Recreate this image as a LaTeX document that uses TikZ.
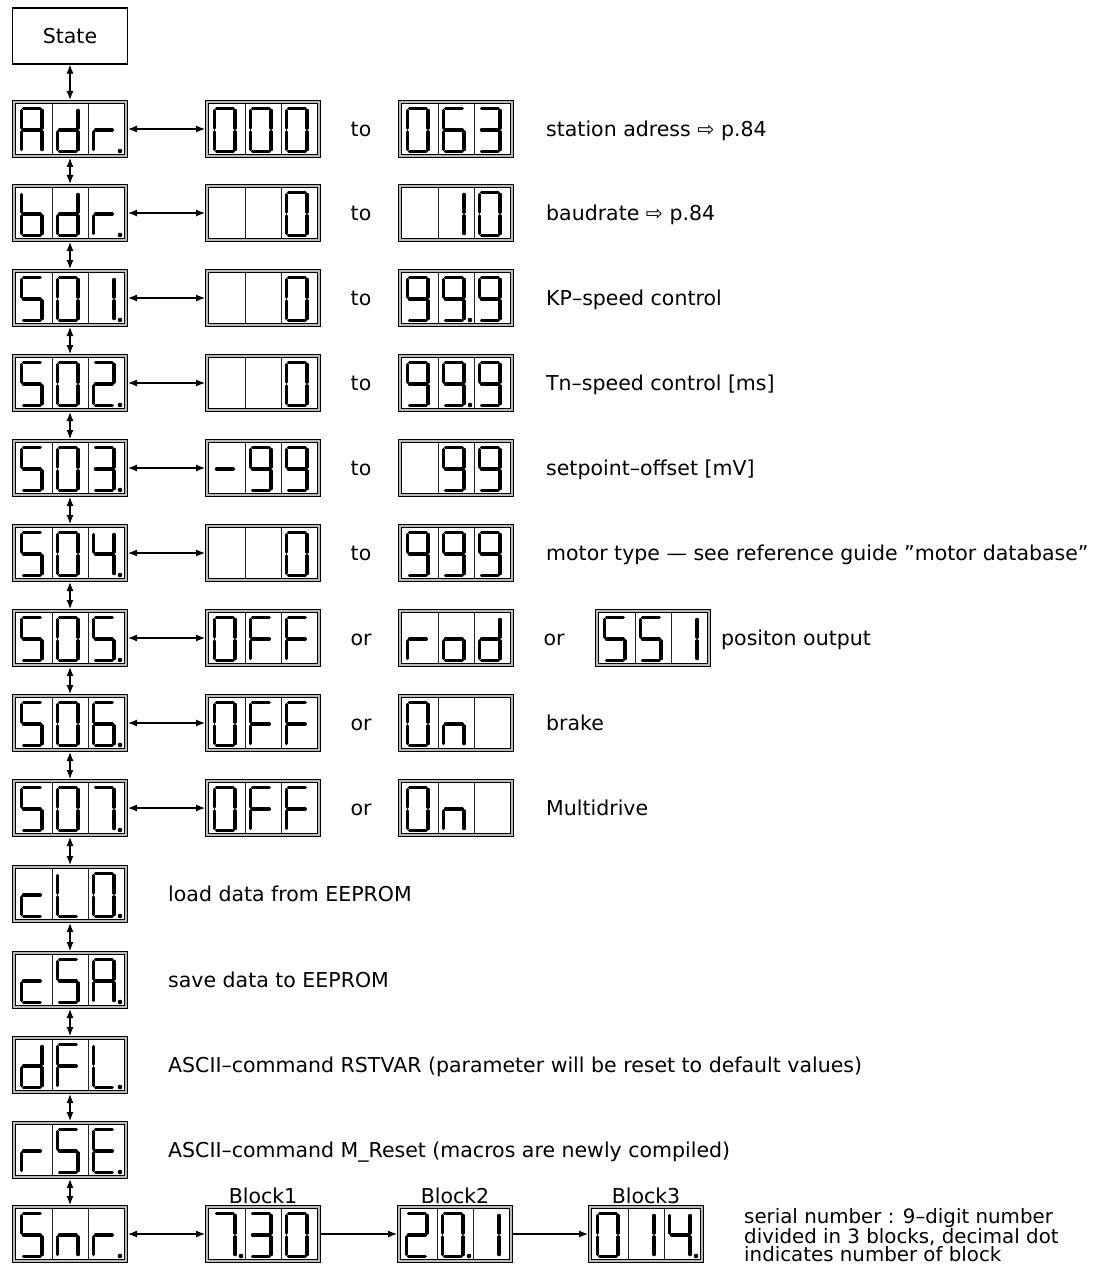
\documentclass[tikz,border=0pt]{standalone}
\usepackage{fontspec}
\setmainfont{DejaVu Sans}
\usetikzlibrary{arrows.meta}
\tikzset{
 segm/.style={line width=3.5pt, line cap=round},
 divider/.style={line width=0.7pt, black!85},
 dispbox/.style={rectangle, draw=black, line width=0.9pt, double=gray!55, double distance=2.3pt, fill=white, minimum width=112pt, minimum height=54pt, inner sep=0pt, outer sep=2pt},
 lbl/.style={font=\fontsize{20.5}{24}\selectfont, inner sep=0pt, anchor=base west},
 lblc/.style={font=\fontsize{20.5}{24}\selectfont, inner sep=0pt, anchor=base},
 conn/.style={line width=1.2pt, {Latex[length=9pt,width=7pt]}-{Latex[length=9pt,width=7pt]}},
 connone/.style={line width=1.2pt, -{Latex[length=9pt,width=7pt]}},
}
% segments in local digit frame (w=20.5, h=42.8)
\newcommand\Sega{\draw[segm] (1.9,0) -- (18.6,0);}
\newcommand\Segb{\draw[segm] (20.5,1.9) -- (20.5,19.5);}
\newcommand\Segc{\draw[segm] (20.5,23.3) -- (20.5,40.9);}
\newcommand\Segd{\draw[segm] (1.9,42.8) -- (18.6,42.8);}
\newcommand\Sege{\draw[segm] (0,23.3) -- (0,40.9);}
\newcommand\Segf{\draw[segm] (0,1.9) -- (0,19.5);}
\newcommand\Segg{\draw[segm] (1.9,21.4) -- (18.6,21.4);}
\newcommand\Segz{}
\def\DgA{a,b,c,e,f,g}
\def\Dgd{b,c,d,e,g}
\def\Dgr{e,g}
\def\Dgb{c,d,e,f,g}
\def\DgZero{a,b,c,d,e,f}
\def\DgOne{b,c}
\def\DgTwo{a,b,d,e,g}
\def\DgThree{a,b,c,d,g}
\def\DgFour{b,c,f,g}
\def\DgFive{a,c,d,f,g}
\def\DgSix{a,c,d,e,f,g}
\def\DgSeven{a,b,c}
\def\DgNine{a,b,c,d,f,g}
\def\DgMinus{g}
\def\DgF{a,e,f,g}
\def\Dgo{c,d,e,g}
\def\Dgn{c,e,g}
\def\Dgc{d,e,g}
\def\DgL{d,e,f}
\def\DgE{a,d,e,f,g}
\def\DgBlank{z}
% #1 name, #2 left, #3 top, #4-#6 cells, #7 dot cell
\newcommand\disp[7]{%
 \node[dispbox] (#1) at ({#2+58},{#3+29}) {};
 \begin{scope}[shift={(#2,#3)}]
   \draw[divider] (40,4) -- (40,54) (76,4) -- (76,54);
   \begin{scope}[shift={(9.6,8.6)}]\foreach \s in #4 {\csname Seg\s\endcsname}\end{scope}
   \begin{scope}[shift={(45.6,8.6)}]\foreach \s in #5 {\csname Seg\s\endcsname}\end{scope}
   \begin{scope}[shift={(81.6,8.6)}]\foreach \s in #6 {\csname Seg\s\endcsname}\end{scope}
   \ifcase#7\or \fill (36,51) circle (2.3);\or \fill (72,51) circle (2.3);\or \fill (108,51) circle (2.3);\fi
 \end{scope}}
\begin{document}
\begin{tikzpicture}[x=1pt,y=-1pt]
\useasboundingbox (0,0) rectangle (1100,1265);
\node[draw, line width=1.1pt, minimum width=115pt, minimum height=56pt, inner sep=0pt, font=\fontsize{20.5}{24}\selectfont] (state) at (70,36) {State};

% Adr
\disp{adr}{12}{100}{\DgA}{\Dgd}{\Dgr}{3}
\disp{adrmin}{205}{100}{\DgZero}{\DgZero}{\DgZero}{0}
\node[lblc] (adrto) at (361,136.5) {to};
\disp{adrmax}{398}{100}{\DgZero}{\DgSix}{\DgThree}{0}
\node[lbl] (adrtxt) at (546,136.5) {station adress ⇨ p.84};
% bdr
\disp{bdr}{12}{184}{\Dgb}{\Dgd}{\Dgr}{3}
\disp{bdrmin}{205}{184}{\DgBlank}{\DgBlank}{\DgZero}{0}
\node[lblc] (bdrto) at (361,220.5) {to};
\disp{bdrmax}{398}{184}{\DgBlank}{\DgOne}{\DgZero}{0}
\node[lbl] (bdrtxt) at (546,220.5) {baudrate ⇨ p.84};
% S01
\disp{sa}{12}{269}{\DgFive}{\DgZero}{\DgOne}{3}
\disp{samin}{205}{269}{\DgBlank}{\DgBlank}{\DgZero}{0}
\node[lblc] (sato) at (361,305.5) {to};
\disp{samax}{398}{269}{\DgNine}{\DgNine}{\DgNine}{2}
\node[lbl] (satxt) at (546,305.5) {KP–speed control};
% S02
\disp{sb}{12}{354}{\DgFive}{\DgZero}{\DgTwo}{3}
\disp{sbmin}{205}{354}{\DgBlank}{\DgBlank}{\DgZero}{0}
\node[lblc] (sbto) at (361,390.5) {to};
\disp{sbmax}{398}{354}{\DgNine}{\DgNine}{\DgNine}{2}
\node[lbl] (sbtxt) at (546,390.5) {Tn–speed control [ms]};
% S03
\disp{sc}{12}{439}{\DgFive}{\DgZero}{\DgThree}{3}
\disp{scmin}{205}{439}{\DgMinus}{\DgNine}{\DgNine}{0}
\node[lblc] (scto) at (361,475.5) {to};
\disp{scmax}{398}{439}{\DgBlank}{\DgNine}{\DgNine}{0}
\node[lbl] (sctxt) at (546,475.5) {setpoint–offset [mV]};
% S04
\disp{sd}{12}{524}{\DgFive}{\DgZero}{\DgFour}{3}
\disp{sdmin}{205}{524}{\DgBlank}{\DgBlank}{\DgZero}{0}
\node[lblc] (sdto) at (361,560.5) {to};
\disp{sdmax}{398}{524}{\DgNine}{\DgNine}{\DgNine}{0}
\node[lbl] (sdtxt) at (546,560.5) {motor type — see reference guide ”motor database”};
% S05
\disp{se}{12}{609}{\DgFive}{\DgZero}{\DgFive}{3}
\disp{seoff}{205}{609}{\DgZero}{\DgF}{\DgF}{0}
\node[lblc] (seor) at (361,645.5) {or};
\disp{serod}{398}{609}{\Dgr}{\Dgo}{\Dgd}{0}
\node[lblc] (seorb) at (554,645.5) {or};
\disp{sessi}{595}{609}{\DgFive}{\DgFive}{\DgOne}{0}
\node[lbl] (setxt) at (721,645.5) {positon output};
% S06
\disp{sf}{12}{694}{\DgFive}{\DgZero}{\DgSix}{3}
\disp{sfoff}{205}{694}{\DgZero}{\DgF}{\DgF}{0}
\node[lblc] (sfor) at (361,730.5) {or};
\disp{sfon}{398}{694}{\DgZero}{\Dgn}{\DgBlank}{0}
\node[lbl] (sftxt) at (546,730.5) {brake};
% S07
\disp{sg}{12}{779}{\DgFive}{\DgZero}{\DgSeven}{3}
\disp{sgoff}{205}{779}{\DgZero}{\DgF}{\DgF}{0}
\node[lblc] (sgor) at (361,815.5) {or};
\disp{sgon}{398}{779}{\DgZero}{\Dgn}{\DgBlank}{0}
\node[lbl] (sgtxt) at (546,815.5) {Multidrive};
% cL0
\disp{cl}{12}{865}{\Dgc}{\DgL}{\DgZero}{3}
\node[lbl] (cltxt) at (168,901.5) {load data from EEPROM};
% cSA
\disp{cs}{12}{951}{\Dgc}{\DgFive}{\DgA}{3}
\node[lbl] (cstxt) at (168,987.5) {save data to EEPROM};
% dFL
\disp{df}{12}{1036}{\Dgd}{\DgF}{\DgL}{3}
\node[lbl] (dftxt) at (168,1072.5) {ASCII–command RSTVAR (parameter will be reset to default values)};
% rSE
\disp{rs}{12}{1121}{\Dgr}{\DgFive}{\DgE}{3}
\node[lbl] (rstxt) at (168,1157.5) {ASCII–command M\_Reset (macros are newly compiled)};
% Snr
\disp{snr}{12}{1205}{\DgFive}{\Dgn}{\Dgr}{3}
\disp{blka}{205}{1205}{\DgSeven}{\DgThree}{\DgZero}{1}
\disp{blkb}{397}{1205}{\DgTwo}{\DgZero}{\DgOne}{2}
\disp{blkc}{588}{1205}{\DgZero}{\DgOne}{\DgFour}{3}
\node[lblc] (blkalbl) at (263,1203) {Block1};
\node[lblc] (blkblbl) at (455,1203) {Block2};
\node[lblc] (blkclbl) at (646,1203) {Block3};
\node[font=\fontsize{19.8}{14}\selectfont, inner sep=0pt, anchor=north west, align=left] (ser) at (744,1208)
  {serial number : 9–digit number\\divided in 3 blocks, decimal dot\\indicates number of block};

% vertical connectors
\foreach \a/\b in {state/adr,adr/bdr,bdr/sa,sa/sb,sb/sc,sc/sd,sd/se,se/sf,sf/sg,sg/cl,cl/cs,cs/df,df/rs,rs/snr}
  \draw[conn] (\a) -- (\b);
% horizontal connectors
\foreach \a/\b in {adr/adrmin,bdr/bdrmin,sa/samin,sb/sbmin,sc/scmin,sd/sdmin,se/seoff,sf/sfoff,sg/sgoff,snr/blka}
  \draw[conn] (\a) -- (\b);
\draw[connone] (blka) -- (blkb);
\draw[connone] (blkb) -- (blkc);
\end{tikzpicture}
\end{document}
